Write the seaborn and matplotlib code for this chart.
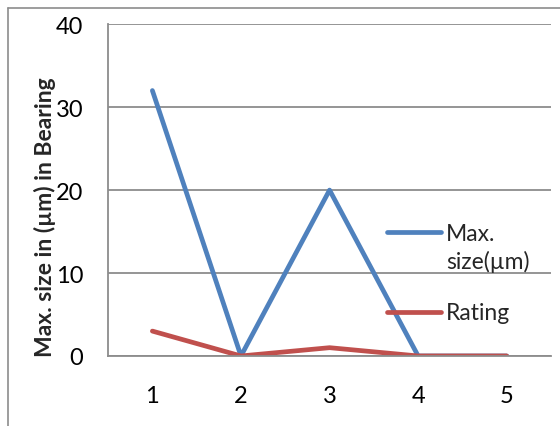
import seaborn as sns
import matplotlib.pyplot as plt
import pandas as pd
from matplotlib.lines import Line2D

categories = ["1", "2", "3", "4", "5"]
max_size = [32, 0, 20, 0, 0]
rating = [3, 0, 1, 0, 0]
series_names = ["Max.\nsize(µm)", "Rating"]
y_ticks = [0, 10, 20, 30, 40]

df = pd.DataFrame({
    "pos": list(range(len(categories))) * 2,
    "value": max_size + rating,
    "series": [series_names[0]] * len(categories) + [series_names[1]] * len(categories),
})

sns.set_theme(style="white")
plt.rcParams["font.family"] = ["Lato", "DejaVu Sans"]

fig = plt.figure(figsize=(5.6, 4.27), dpi=100)
ax = fig.add_axes([0.193, 0.164, 0.791, 0.777])

palette = {series_names[0]: "#4F81BD", series_names[1]: "#C0504D"}
sns.lineplot(data=df, x="pos", y="value", hue="series", palette=palette,
             linewidth=3.4, ax=ax, legend=False)

ax.set_xlim(-0.5, len(categories) - 0.5)
ax.set_ylim(0, 40)
ax.set_xticks(range(len(categories)))
ax.set_xticklabels(categories)
ax.set_yticks(y_ticks)
ax.tick_params(axis="both", labelsize=17, colors="black", length=0)
ax.tick_params(axis="x", pad=21)
ax.tick_params(axis="y", pad=18)
ax.yaxis.grid(True, color="#8c8c8c", linewidth=1.3)
ax.set_axisbelow(True)
for side in ["top", "right"]:
    ax.spines[side].set_visible(False)
for side in ["left", "bottom"]:
    ax.spines[side].set_color("#8c8c8c")
    ax.spines[side].set_linewidth(1.3)
ax.set_xlabel("")
ax.set_ylabel("Max. size in (µm) in Bearing", fontsize=16.5, fontweight="bold")
ax.yaxis.set_label_coords(-0.118, 0.42)

# legend drawn in figure pixels like the Excel one (handle on first text line)
W, H = 560, 427
legend_rows = [(233, series_names[0], 236), (313, series_names[1], 313)]
for (yh, label, yt), name in zip(legend_rows, series_names):
    fig.add_artist(Line2D([387 / W, 441 / W], [1 - yh / H, 1 - yh / H],
                          color=palette[name], linewidth=3.4))
    va = "top" if "\n" in label else "center"
    y_text = 1 - (yt - 12) / H if "\n" in label else 1 - yt / H
    fig.text(446 / W, y_text, label, fontsize=16.5, va=va, ha="left",
             linespacing=1.3)

# outer chart frame
fig.add_artist(Line2D([0.014, 1.0], [0.979, 0.979], color="#8c8c8c", linewidth=1.2))
fig.add_artist(Line2D([0.014, 0.014], [0.0, 0.979], color="#8c8c8c", linewidth=1.2))

fig.savefig("out.png", dpi=100)
